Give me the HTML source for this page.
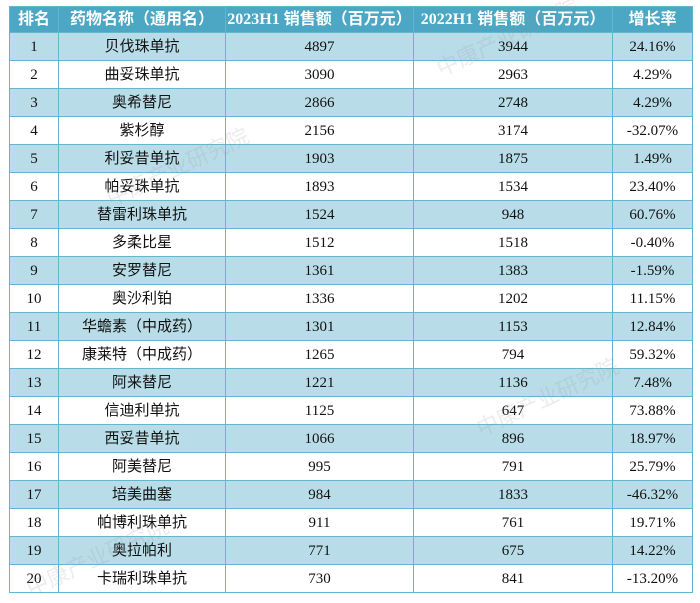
<!DOCTYPE html>
<html><head><meta charset="utf-8"><style>
body{margin:0;width:700px;height:600px;background:#fff;overflow:hidden;position:relative}
table{position:absolute;left:9px;top:6px;border-collapse:collapse;width:683px;table-layout:fixed;
font-family:"Liberation Serif","Noto Sans CJK SC",serif;font-size:15px;color:#111}
td,th{border:1px solid #63b6cd;text-align:center;padding:0;height:27px;line-height:16px}
th{background:#4ba7c3;color:#fff;font-weight:bold;height:25px;font-size:16px;font-family:"Liberation Serif","Noto Sans CJK SC",serif}
tr:nth-child(odd) td{background:#b8dde8}
td.n{font-family:"Liberation Sans","Noto Sans CJK SC",sans-serif;font-size:15px}
.wm{position:absolute;color:rgba(150,150,150,0.18);font-family:"Noto Sans CJK SC",sans-serif;font-size:22px;transform:rotate(-25deg);pointer-events:none}
</style></head><body>
<table>
<colgroup><col style="width:49px"><col style="width:167px"><col style="width:188px"><col style="width:199px"><col style="width:80px"></colgroup>
<thead><tr>
<th>排名</th>
<th>药物名称（通用名）</th>
<th>2023H1 销售额（百万元）</th>
<th>2022H1 销售额（百万元）</th>
<th>增长率</th>
</tr></thead>
<tbody id="tb"></tbody>
</table>
<div class="wm" style="left:430px;top:20px">中康产业研究院</div>
<div class="wm" style="left:100px;top:150px">中康产业研究院</div>
<div class="wm" style="left:470px;top:380px">中康产业研究院</div>
<div class="wm" style="left:20px;top:540px">中康产业研究院</div>
<script>
const names=["贝伐珠单抗","曲妥珠单抗","奥希替尼","紫杉醇","利妥昔单抗","帕妥珠单抗","替雷利珠单抗","多柔比星","安罗替尼","奥沙利铂","华蟾素（中成药）","康莱特（中成药）","阿来替尼","信迪利单抗","西妥昔单抗","阿美替尼","培美曲塞","帕博利珠单抗","奥拉帕利","卡瑞利珠单抗"];
const sales2023=[4897,3090,2866,2156,1903,1893,1524,1512,1361,1336,1301,1265,1221,1125,1066,995,984,911,771,730];
const sales2022=[3944,2963,2748,3174,1875,1534,948,1518,1383,1202,1153,794,1136,647,896,791,1833,761,675,841];
const growth=["24.16%","4.29%","4.29%","-32.07%","1.49%","23.40%","60.76%","-0.40%","-1.59%","11.15%","12.84%","59.32%","7.48%","73.88%","18.97%","25.79%","-46.32%","19.71%","14.22%","-13.20%"];
const tb=document.getElementById('tb');
names.forEach((n,i)=>{
 const tr=document.createElement('tr');
 
 
 [[i+1,''],[n,'n'],[sales2023[i],''],[sales2022[i],''],[growth[i],'']].forEach((c,j)=>{
  const td=document.createElement('td');
  td.textContent=c[0];
  if(c[1])td.className=c[1];
  
  
  tr.appendChild(td);
 });
 tb.appendChild(tr);
});
</script>
</body></html>
